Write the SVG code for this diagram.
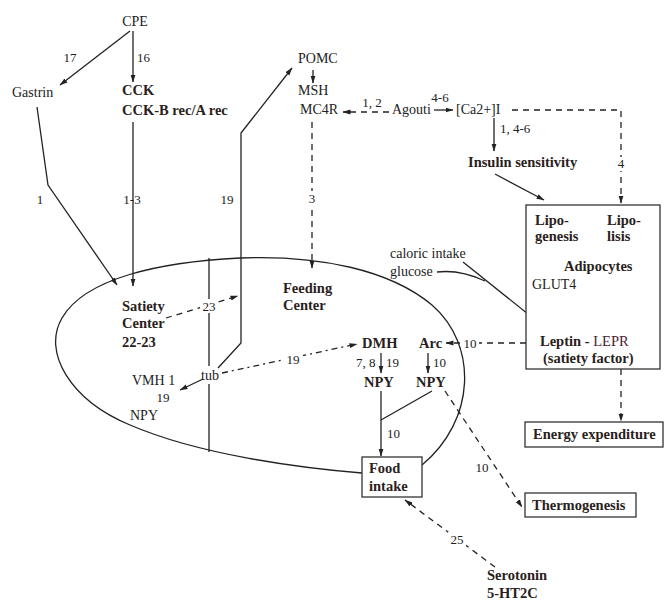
<svg xmlns="http://www.w3.org/2000/svg" width="664" height="601" viewBox="0 0 664 601">
<defs>
<style>
text{font-family:"Liberation Serif","Times New Roman",serif;font-size:14px;fill:#222}
.b{font-weight:bold;font-size:14.5px;fill:#2a1e20}
.n{font-size:13px}
.m{fill:#4a2230;font-weight:normal}
.ln{fill:none;stroke:#222;stroke-width:1.3}
.d{stroke-dasharray:6 5}
.dd{stroke-dasharray:6 4 2 4}
.bx{fill:#fff;stroke:#333;stroke-width:1.3}
.bg{fill:#fff}
</style>
<marker id="a" markerWidth="8" markerHeight="6" refX="7.5" refY="3" orient="auto" markerUnits="userSpaceOnUse"><path d="M0,0.5 L8,3 L0,5.5 z" fill="#222"/></marker>
</defs>
<rect width="664" height="601" fill="#fff"/>

<g id="connectors">
<path class="ln" d="M362,473 C300,468 200,455 130,425 C70,400 42,352 62,318 C85,278 160,262 240,258 C320,255 390,270 432,305 C478,345 476,420 422,465"/>
<path class="ln" d="M133,31 V82" marker-end="url(#a)"/>
<path class="ln" d="M130,31 L60,85" marker-end="url(#a)"/>
<path class="ln" d="M37,107 L48,185 L117,285" marker-end="url(#a)"/>
<path class="ln" d="M133,122 V286" marker-end="url(#a)"/>
<path class="ln" d="M218,368 L241,343 V133 L292,68" marker-end="url(#a)"/>
<path class="ln" d="M313,70 V83" marker-end="url(#a)"/>
<path class="ln d" d="M312,122 V268" marker-end="url(#a)"/>
<path class="ln d" d="M389,112 H343" marker-end="url(#a)"/>
<path class="ln" d="M434,110 H453" marker-end="url(#a)"/>
<path class="ln d" d="M512,110 H621 V203" marker-end="url(#a)"/>
<path class="ln" d="M494,118 V151" marker-end="url(#a)"/>
<path class="ln" d="M495,174 L544,200" marker-end="url(#a)"/>
<path class="ln" d="M463,262 L548,330" marker-end="url(#a)"/>
<path class="ln" d="M437,272 C454,270 470,274 485,281"/>
<path class="ln" d="M566,285 Q576,282 584,273" marker-end="url(#a)"/>
<path class="ln d" d="M537,343 H446" marker-end="url(#a)"/>
<path class="ln d" d="M621,369 V421" marker-end="url(#a)"/>
<path class="ln d" d="M166,318 L238,296" marker-end="url(#a)"/>
<path class="ln" d="M209,258 V366 M209,384 V452"/>
<path class="ln" d="M203,379 L180,390" marker-end="url(#a)"/>
<path class="ln dd" d="M222,373 L357,344" marker-end="url(#a)"/>
<path class="ln" d="M381,353 V373" marker-end="url(#a)"/>
<path class="ln" d="M428,353 V373" marker-end="url(#a)"/>
<path class="ln" d="M381,391 V456" marker-end="url(#a)"/>
<path class="ln" d="M432,391 L381,420"/>
<path class="ln d" d="M445,391 L522,507" marker-end="url(#a)"/>
<path class="ln d" d="M495,567 L405,500" marker-end="url(#a)"/>
<rect class="bg" x="306" y="191" width="12" height="14"/>
<rect class="bg" x="615" y="157" width="12" height="14"/>
<rect class="bg" x="461" y="336" width="18" height="14"/>
<rect class="bg" x="284" y="352" width="19" height="14"/>
<rect class="bg" x="200" y="299" width="18" height="14"/>
<rect class="bg" x="473" y="460" width="18" height="15"/>
<rect class="bg" x="448" y="532" width="18" height="15"/>
</g>

<g id="cpe"><text x="135" y="26" text-anchor="middle">CPE</text></g>
<g id="lbl17"><text class="n" x="70" y="62" text-anchor="middle">17</text></g>
<g id="lbl16"><text class="n" x="137" y="62">16</text></g>
<g id="gastrin"><text x="12" y="97">Gastrin</text></g>
<g id="cck"><text class="b" x="122" y="95">CCK</text><text class="b" x="122" y="115" fill="#3a1f24">CCK-B rec/A rec</text></g>
<g id="pomc"><text x="298" y="63">POMC</text><text x="298" y="95">MSH</text><text x="300" y="114">MC4R</text></g>
<g id="lbl12"><text class="n" x="372" y="107" text-anchor="middle">1, 2</text></g>
<g id="lbl46"><text class="n" x="440" y="102" text-anchor="middle">4-6</text></g>
<g id="agouti"><text x="392" y="114">Agouti</text></g>
<g id="ca"><text x="456" y="114">[Ca2+]I</text></g>
<g id="lbl146"><text class="n" x="500" y="133">1, 4-6</text></g>
<g id="insulin"><text class="b" x="468" y="167">Insulin sensitivity</text></g>
<g id="lbl4"><text class="n" x="621" y="168" text-anchor="middle">4</text></g>
<g id="lbl1"><text class="n" x="40" y="204" text-anchor="middle">1</text></g>
<g id="lbl13"><text class="n" x="132" y="204" text-anchor="middle">1-3</text></g>
<g id="lbl19a"><text class="n" x="227" y="204" text-anchor="middle">19</text></g>
<g id="lbl3"><text class="n" x="312" y="203" text-anchor="middle">3</text></g>

<g id="adipocytes">
<rect class="bx" x="526" y="205" width="134" height="164"/>
<text class="b" x="535" y="225">Lipo-</text><text class="b" x="535" y="241">genesis</text>
<text class="b" x="607" y="225">Lipo-</text><text class="b" x="607" y="241">lisis</text>
<text class="b" x="564" y="271">Adipocytes</text>
<text x="532" y="289">GLUT4</text>
<text class="b" x="540" y="346">Leptin - <tspan class="m">LEPR</tspan></text>
<text class="b" x="543" y="363">(satiety factor)</text>
</g>
<g id="caloric"><text x="390" y="258">caloric intake</text><text x="390" y="276">glucose</text></g>

<g id="satiety"><text class="b" x="122" y="311">Satiety</text><text class="b" x="122" y="328">Center</text><text class="b" x="122" y="347">22-23</text></g>
<g id="lbl23"><text class="n" x="209" y="311" text-anchor="middle">23</text></g>
<g id="feeding"><text class="b" x="283" y="293">Feeding</text><text class="b" x="283" y="310">Center</text></g>
<g id="vmh"><text x="132" y="385">VMH 1</text><text class="n" x="163" y="402" text-anchor="middle">19</text><text x="130" y="420">NPY</text></g>
<g id="tub"><text x="201" y="380">tub</text></g>
<g id="lbl19b"><text class="n" x="293" y="364" text-anchor="middle">19</text></g>
<g id="dmh"><text class="b" x="362" y="348">DMH</text><text class="n" x="356" y="367">7, 8</text><text class="n" x="386" y="367">19</text><text class="b" x="364" y="387">NPY</text></g>
<g id="arc"><text class="b" x="419" y="348">Arc</text><text class="n" x="433" y="367">10</text><text class="b" x="416" y="387">NPY</text></g>
<g id="lbl10a"><text class="n" x="470" y="348" text-anchor="middle">10</text></g>
<g id="lbl10b"><text class="n" x="387" y="438">10</text></g>
<g id="lbl10c"><text class="n" x="482" y="472" text-anchor="middle">10</text></g>
<g id="food"><rect class="bx" x="362" y="457" width="60" height="40"/><text class="b" x="369" y="473">Food</text><text class="b" x="369" y="491">intake</text></g>
<g id="energy"><rect class="bx" x="525" y="422" width="138" height="25"/><text class="b" x="533" y="439">Energy expenditure</text></g>
<g id="thermo"><rect class="bx" x="525" y="493" width="111" height="24"/><text class="b" x="532" y="510">Thermogenesis</text></g>
<g id="lbl25"><text class="n" x="457" y="544" text-anchor="middle">25</text></g>
<g id="serotonin"><text class="b" x="487" y="580">Serotonin</text><text class="b" x="487" y="598">5-HT2C</text></g>
</svg>
